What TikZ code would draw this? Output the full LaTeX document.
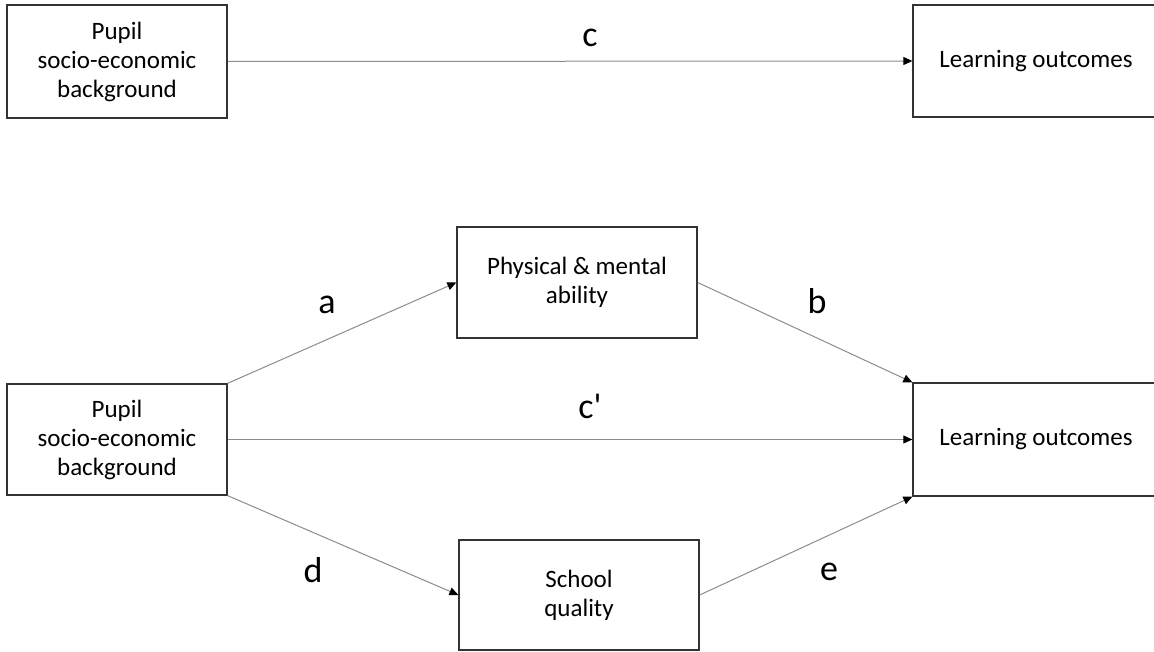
\documentclass[tikz,border=0pt]{standalone}
\usepackage{fontspec}
\setmainfont{Carlito}
\usetikzlibrary{arrows.meta}
\begin{document}
\begin{tikzpicture}[x=1pt,y=-1pt,
  box/.style={draw=black!80, line width=1.3pt, fill=none, align=center,
    inner sep=0pt, font=\fontsize{25}{29}\selectfont, text=black},
  conn/.style={draw=black!45, line width=1pt,
    -{Triangle[length=9pt,width=8pt,color=black]}},
  lab/.style={anchor=base, inner sep=0pt, font=\fontsize{36}{40}\selectfont, text=black}]
\useasboundingbox (0,0) rectangle (1154,652);
% top diagram
\node[box, minimum width=220pt, minimum height=113pt] (tl) at (117,61.5) {Pupil\\socio-economic\\background};
\node[box, minimum width=246pt, minimum height=112pt] (tr) at (1036,61) {Learning outcomes};
\draw[conn] (tl.east) -- (tr.west);
\node[lab] (lc) at (590,47) {c};
% bottom diagram
\node[box, minimum width=220pt, minimum height=111pt] (bl) at (117,439.5) {Pupil\\socio-economic\\background};
\node[box, minimum width=246pt, minimum height=113pt] (br) at (1036,439.5) {Learning outcomes};
\node[box, minimum width=240pt, minimum height=111pt] (ph) at (577,282.5) {Physical \& mental\\ability};
\node[box, minimum width=240pt, minimum height=110pt] (sq) at (579,595) {School\\quality};
\draw[conn] (bl.north east) -- (ph.west);
\draw[conn] (ph.east) -- (br.north west);
\draw[conn] (bl.east) -- (br.west);
\draw[conn] (bl.south east) -- (sq.west);
\draw[conn] (sq.east) -- (br.south west);
\node[lab] (la) at (327,313) {a};
\node[lab] (lb) at (817,313) {b};
\node[lab] (lcp) at (590,418) {c\textquotesingle};
\node[lab] (ld) at (313,582) {d};
\node[lab] (le) at (829,580) {e};
\end{tikzpicture}
\end{document}
